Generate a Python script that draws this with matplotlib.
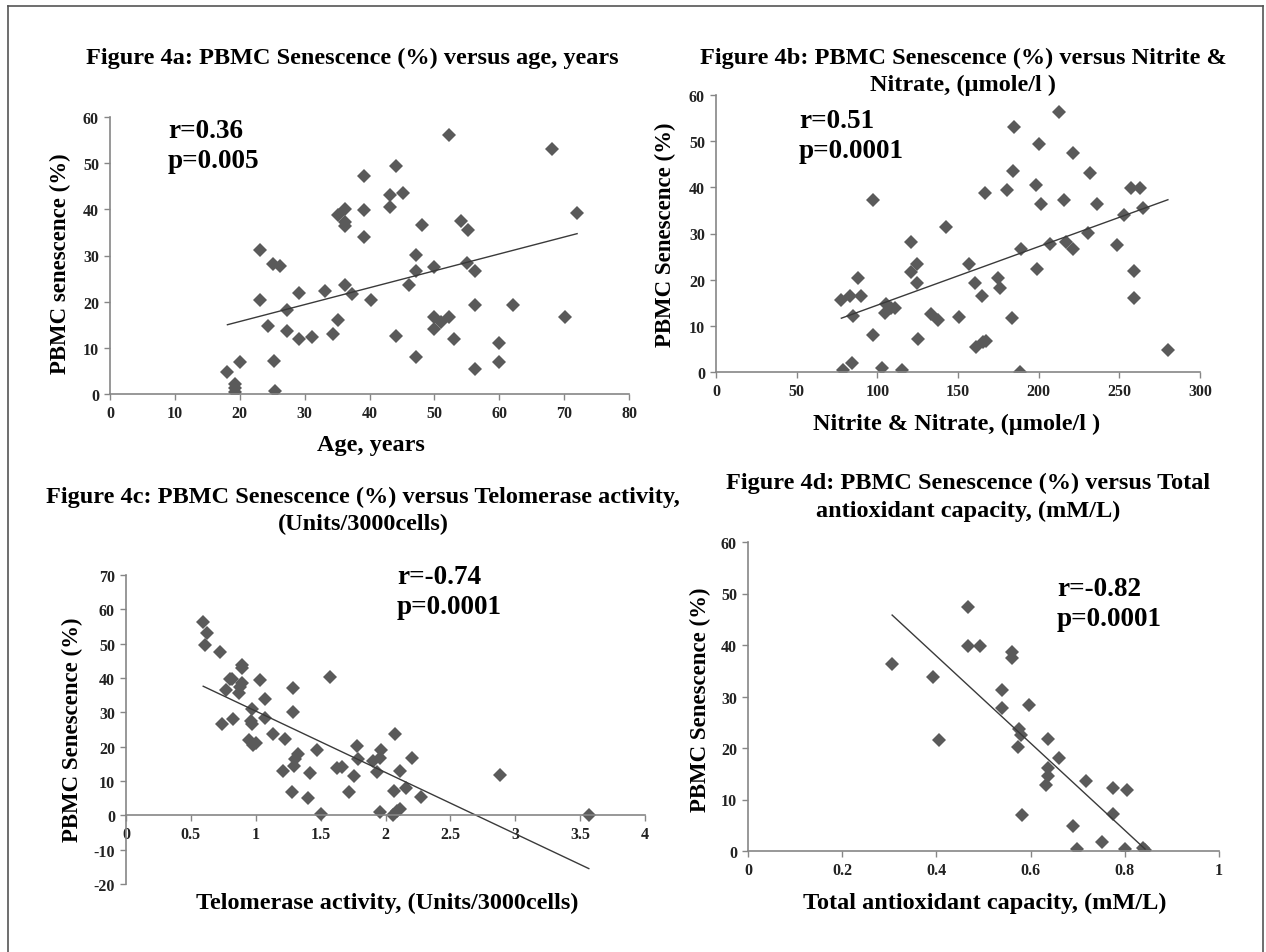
import matplotlib.pyplot as plt
import numpy as np
from matplotlib.lines import Line2D

plt.rcParams['font.family'] = ['Liberation Serif', 'DejaVu Serif']
plt.rcParams['font.weight'] = 'bold'
plt.rcParams['axes.unicode_minus'] = False

## DATA

# 4a: age (years) vs PBMC senescence (%)
age = [52.2, 68.1, 39.1, 44.1, 45.2, 43.2, 43.2, 36.3, 35.2, 36.2, 36.2, 39.1, 39.1, 48.1,
       54.1, 55.2, 72.0, 23.1, 25.2, 26.2, 47.2, 47.2, 50.0, 55.1, 56.3, 46.1, 36.3, 37.3,
       33.2, 29.1, 40.2, 23.1, 27.3, 56.3, 62.1, 35.2, 24.3, 27.3, 29.1, 31.2, 34.3, 44.1,
       50.0, 52.2, 51.0, 50.0, 53.1, 70.1, 60.0, 60.0, 47.2, 56.2, 20.1, 25.3, 18.1, 19.2,
       19.2, 19.2, 25.4]
sen_a = [56.2, 53.1, 47.3, 49.4, 43.6, 43.0, 40.4, 40.0, 38.7, 37.3, 36.4, 39.9, 33.9, 36.6,
         37.4, 35.6, 39.3, 31.2, 28.1, 27.8, 30.2, 26.6, 27.5, 28.4, 26.6, 23.6, 23.6, 21.7,
         22.4, 21.8, 20.4, 20.4, 18.1, 19.2, 19.2, 16.1, 14.7, 13.7, 11.9, 12.3, 12.9, 12.6,
         16.7, 16.7, 15.7, 14.0, 12.0, 16.7, 11.1, 7.0, 8.0, 5.5, 7.0, 7.2, 4.8, 2.1,
         1.2, 0.5, 0.6]
trend_a = (0.366, 8.38)   # slope, intercept

# 4b: nitrite & nitrate (umole/l) vs PBMC senescence (%)
nox = [212.8, 185.0, 199.9, 221.4, 184.1, 232.1, 198.5, 257.1, 263.1, 180.4, 166.9, 97.6,
       215.7, 201.4, 236.4, 264.5, 252.8, 142.7, 230.7, 121.0, 207.1, 216.9, 221.4, 248.3,
       189.3, 124.3, 157.1, 198.9, 259.4, 121.0, 88.0, 175.1, 124.7, 160.5, 175.9, 82.8,
       89.6, 164.6, 259.4, 77.7, 105.4, 104.8, 108.7, 111.0, 84.9, 133.3, 137.6, 150.5,
       183.5, 97.6, 125.3, 161.2, 165.7, 167.3, 280.1, 84.1, 78.5, 103.1, 115.2, 188.6]
sen_b = [56.3, 53.0, 49.3, 47.4, 43.6, 43.0, 40.4, 39.9, 39.9, 39.4, 38.7, 37.3,
         37.3, 36.4, 36.4, 35.5, 33.9, 31.3, 30.1, 28.2, 27.8, 28.2, 26.6, 27.5,
         26.6, 23.5, 23.5, 22.4, 21.8, 21.6, 20.4, 20.4, 19.2, 19.2, 18.1, 16.5,
         16.5, 16.5, 16.1, 15.5, 14.7, 12.7, 13.8, 13.8, 12.2, 12.6, 11.2, 12.0,
         11.7, 8.1, 7.2, 5.4, 6.6, 6.8, 4.8, 1.9, 0.5, 0.9, 0.5, 0.1]
trend_b = (0.1268, 1.80)

# 4c: telomerase activity (Units/3000cells) vs PBMC senescence (%)
telo = [0.595, 0.627, 0.608, 0.724, 0.896, 0.896, 0.802, 0.82, 1.034, 0.894, 0.875, 0.767,
        0.872, 1.284, 1.575, 1.071, 0.974, 1.287, 1.071, 0.961, 0.971, 0.740, 0.826, 1.131,
        1.225, 0.948, 0.999, 0.977, 2.075, 1.779, 1.472, 1.968, 1.322, 1.30, 2.207, 1.787,
        1.906, 1.954, 1.295, 1.623, 1.664, 1.211, 2.110, 1.938, 1.421, 1.755, 2.880, 2.156,
        1.276, 1.717, 2.065, 2.275, 1.40, 2.110, 2.09, 1.96, 2.057, 1.502, 3.567]
sen_c = [56.3, 53.0, 49.5, 47.6, 43.7, 42.9, 39.8, 39.8, 39.5, 38.6, 37.3, 36.5,
         35.7, 37.1, 40.3, 33.8, 31.1, 30.2, 28.4, 27.5, 26.7, 26.7, 28.0, 23.8,
         22.1, 21.9, 21.1, 20.4, 23.8, 20.3, 19.1, 19.1, 18.0, 16.4, 16.7, 16.4,
         15.8, 16.7, 14.5, 13.7, 14.0, 13.0, 12.8, 12.6, 12.2, 11.4, 11.8, 8.0,
         6.9, 6.8, 7.2, 5.3, 5.0, 1.9, 1.2, 1.0, 0.2, 0.5, 0.2]
trend_c = (-17.87, 48.23)

# 4d: total antioxidant capacity (mM/L) vs PBMC senescence (%)
tac = [0.467, 0.467, 0.492, 0.560, 0.560, 0.306, 0.393, 0.540, 0.596, 0.540, 0.575, 0.580,
       0.405, 0.636, 0.574, 0.661, 0.636, 0.638, 0.633, 0.718, 0.774, 0.804, 0.774, 0.582,
       0.689, 0.751, 0.698, 0.800, 0.838, 0.843]
sen_d = [47.3, 39.8, 39.8, 38.7, 37.4, 36.3, 33.7, 31.2, 28.3, 27.8, 23.6, 22.6,
         21.6, 21.7, 20.2, 18.0, 16.2, 14.6, 12.8, 13.6, 12.3, 11.8, 7.1, 6.9,
         4.8, 1.8, 0.4, 0.4, 0.6, 0.2]
trend_d = (-84.6, 71.7)

W, H = 1266, 953
fig = plt.figure(figsize=(W / 100, H / 100), dpi=100)

def px(x, y):
    return x / W, 1 - y / H

def make_axes(x0, x1, ytop, ybot):
    return fig.add_axes([x0 / W, 1 - ybot / H, (x1 - x0) / W, (ybot - ytop) / H])

grey = '#868686'
mark = '#5a5a5a'

def style(ax, xlim, xticks, ylim, yticks, xfmt=None):
    ax.set_xlim(*xlim)
    ax.set_ylim(*ylim)
    ax.set_xticks(xticks)
    ax.set_yticks(yticks)
    if xfmt:
        ax.set_xticklabels([xfmt(v) for v in xticks])
    for s in ['top', 'right']:
        ax.spines[s].set_visible(False)
    for s in ['left', 'bottom']:
        ax.spines[s].set_color(grey)
        ax.spines[s].set_linewidth(1.2)
    ax.tick_params(direction='out', length=4, width=1, color=grey,
                   labelsize=11.5, pad=4, labelcolor='#222222')
    for lab in ax.get_xticklabels() + ax.get_yticklabels():
        lab.set_fontweight('bold')
    ax.patch.set_alpha(0)

def scatter(ax, x, y, trend):
    ax.plot(x, y, linestyle='none', marker='D', markersize=7.5, color=mark,
            markeredgewidth=0)
    xs = np.array([min(x), max(x)])
    ax.plot(xs, trend[0] * xs + trend[1], color='#3a3a3a', linewidth=1.0)

# panel a
ax = make_axes(110, 629, 118, 395)
scatter(ax, age, sen_a, trend_a)
style(ax, (0, 80), range(0, 81, 10), (0, 60), range(0, 61, 10))

# panel b
ax = make_axes(716, 1200, 96, 373)
scatter(ax, nox, sen_b, trend_b)
style(ax, (0, 300), range(0, 301, 50), (0, 60), range(0, 61, 10))

# panel c
ax = make_axes(126, 645, 576, 885)
scatter(ax, telo, sen_c, trend_c)
style(ax, (0, 4), np.arange(0, 4.01, 0.5), (-20, 70), range(-20, 71, 10),
      xfmt=lambda v: '%g' % v)
ax.spines['bottom'].set_position(('data', 0))

# panel d
ax = make_axes(748, 1219, 543, 852)
scatter(ax, tac, sen_d, trend_d)
style(ax, (0, 1), np.arange(0, 1.01, 0.2), (0, 60), range(0, 61, 10),
      xfmt=lambda v: '%g' % round(v, 1))

## TEXT
tfs = 17.5
def ftext(x, y, s, size=tfs, **kw):
    fig.text(*px(x, y), s, fontsize=size, fontweight='bold', ha='center', va='center', **kw)

ftext(352, 58, 'Figure 4a: PBMC Senescence (%) versus age, years')
ftext(963, 58, 'Figure 4b: PBMC Senescence (%) versus Nitrite &')
ftext(963, 85, 'Nitrate, (\u00b5mole/l )')
ftext(363, 497, 'Figure 4c: PBMC Senescence (%) versus Telomerase activity,')
ftext(363, 524, '(Units/3000cells)')
ftext(968, 483, 'Figure 4d: PBMC Senescence (%) versus Total')
ftext(968, 511, 'antioxidant capacity, (mM/L)')

lfs = 17.5
ftext(371, 445, 'Age, years', size=lfs)
ftext(957, 424, 'Nitrite & Nitrate, (\u00b5mole/l )', size=lfs)
ftext(387, 903, 'Telomerase activity, (Units/3000cells)', size=lfs)
ftext(985, 903, 'Total antioxidant capacity, (mM/L)', size=lfs)

yfs = 16.5
ftext(60, 264, 'PBMC senescence (%)', size=yfs, rotation=90)
ftext(665, 235, 'PBMC Senescence (%)', size=yfs, rotation=90)
ftext(72, 730, 'PBMC Senescence (%)', size=yfs, rotation=90)
ftext(700, 700, 'PBMC Senescence (%)', size=yfs, rotation=90)

afs = 19.5
def stat(x, y, r, p):
    fig.text(*px(x, y), r, fontsize=afs, fontweight='bold', ha='left', va='center')
    fig.text(*px(x, y + 30), p, fontsize=afs, fontweight='bold', ha='left', va='center')

stat(168, 131, 'r=0.36', 'p=0.005')
stat(799, 122, 'r=0.51', 'p=0.0001')
stat(397, 578, 'r=-0.74', 'p=0.0001')
stat(1057, 590, 'r=-0.82', 'p=0.0001')

## FRAME
fc = '#555555'
fig.add_artist(Line2D([8 / W, 8 / W], [0, 1 - 7 / H], color=fc, lw=1.2, transform=fig.transFigure))
fig.add_artist(Line2D([8 / W, 1263 / W], [1 - 7 / H, 1 - 7 / H], color=fc, lw=1.2, transform=fig.transFigure))
fig.add_artist(Line2D([1263 / W, 1263 / W], [0, 1 - 7 / H], color=fc, lw=1.2, transform=fig.transFigure))

fig.savefig('out.png', dpi=100)
